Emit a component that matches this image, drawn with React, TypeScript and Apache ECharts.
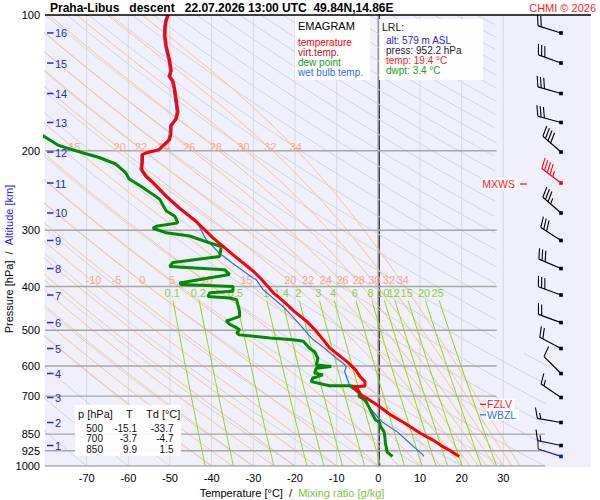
import React, { useEffect, useRef } from "react";
import * as echarts from "echarts";

// ------------------------------------------------------------------ data
const TITLE = "Praha-Libus   descent   22.07.2026 13:00 UTC  49.84N,14.86E";
const COPYRIGHT = "CHMI \u00a9 2026";

const P_TICKS = [100, 200, 300, 400, 500, 600, 700, 850, 925, 1000];
const T_TICKS = [-70, -60, -50, -40, -30, -20, -10, 0, 10, 20, 30];
const ISOBARS = [200, 300, 400, 500, 600, 700, 850, 925, 1000];

const ALT_KM = [16, 15, 14, 13, 12, 11, 10, 9, 8, 7, 6, 5, 4, 3, 2, 1];
const ALT_P = [109.6, 127.8, 149.3, 173.1, 201.3, 235.8, 274.8, 316.2, 364.9, 417.7, 480.8, 548.9, 623.7, 704.9, 800.9, 900.7];

const TEMP_P = [952.2, 925, 900, 875, 846, 800, 770, 735, 710, 700, 690, 675, 668, 665, 650, 633, 612, 589, 548, 520, 500, 478, 454, 431, 413, 386, 370, 340, 312, 287, 268, 252, 235, 228, 220, 212, 204, 202, 199, 194, 189, 184, 176, 170, 164, 154, 145, 140, 137, 133, 127, 117, 111, 106, 103, 100];
const TEMP_T = [19.4, 17.3, 15.0, 13.0, 10.1, 6.0, 2.9, 0.0, -2.5, -3.7, -4.5, -5.6, -6.2, -3.2, -3.2, -4.4, -5.5, -7.3, -11.6, -13.6, -15.1, -17.2, -20.2, -22.8, -25.2, -28.0, -30.0, -34.9, -39.7, -43.7, -47.7, -50.9, -54.1, -55.7, -56.8, -56.6, -56.6, -55.6, -52.6, -51.4, -50.1, -49.8, -49.7, -48.5, -48.1, -48.5, -48.9, -49.3, -50.1, -49.7, -50.0, -50.9, -51.2, -51.1, -50.9, -50.4];

const DEW_P = [952.2, 930, 889, 850, 838, 817, 801, 790, 752, 715, 700, 689, 668, 664, 664, 650, 638, 628, 622, 607, 602, 597, 577, 558, 548, 529, 525, 520, 512, 507, 499, 494, 485, 477, 473, 466, 454, 439, 428, 424, 421, 413, 410, 400, 396, 393, 376, 367, 361, 354, 343, 326, 320, 309, 304, 297, 294, 289, 279, 272, 256, 241, 231, 224, 214, 207, 202, 198, 194, 185];
const DEW_T = [3.4, 2.1, 1.7, 1.5, 1.3, 0.5, 0.3, -0.7, -1.9, -3.1, -4.7, -4.4, -5.3, -6.7, -11.7, -16.1, -15.7, -13.3, -15.3, -14.9, -11.3, -14.9, -14.5, -15.3, -16.5, -18.0, -20.4, -26.0, -33.3, -34.0, -33.3, -34.0, -35.7, -36.5, -35.3, -33.3, -33.3, -33.7, -34.0, -35.7, -40.9, -40.5, -34.9, -34.9, -47.3, -47.7, -35.7, -36.9, -50.1, -49.3, -38.1, -37.7, -40.5, -45.3, -50.9, -54.1, -53.3, -48.1, -48.9, -50.9, -52.5, -56.6, -59.8, -60.6, -63.0, -67.0, -71.0, -74.2, -77.0, -80.6];

const WB_P = [952.2, 945, 889, 838, 801, 758, 707, 689, 668, 643, 618, 603, 591, 577, 548, 520, 490, 463, 443, 424, 406, 386, 383, 364, 355, 337, 314, 294, 286, 268, 252, 235, 228, 220, 212, 204, 202, 199, 194, 189, 184, 176, 170, 164, 154, 145, 140, 137, 133, 127, 117, 111, 106, 103, 100];
const WB_T = [10.9, 10.7, 7.5, 4.4, 1.1, -1.3, -4.0, -4.8, -6.8, -7.4, -8.1, -7.7, -8.5, -10.1, -12.9, -16.1, -18.5, -20.9, -22.9, -25.3, -27.7, -29.3, -30.1, -33.4, -35.0, -38.2, -41.4, -43.0, -44.1, -48.1, -51.3, -54.5, -56.1, -57.2, -57.0, -57.0, -56.0, -53.0, -51.8, -50.5, -50.2, -50.1, -48.9, -48.5, -48.9, -49.3, -49.7, -50.5, -50.1, -50.4, -51.3, -51.6, -51.5, -51.3, -50.8];

const WIND_P = [109.6, 127.8, 149.3, 173.1, 201.3, 235.8, 274.8, 316.2, 364.9, 417.7, 480.8, 548.9, 623.7, 704.9, 800.9, 900.7, 952.2];
const WIND_DIR = [287, 290, 286, 285, 311, 307, 311, 303, 293, 290, 290, 298, 315, 304, 280, 282, 288];
const WIND_SPD = [20, 30, 30, 30, 40, 45, 35, 30, 30, 30, 20, 20, 10, 15, 15, 15, 10];
const WIND_KIND = [0, 0, 0, 0, 0, 1, 0, 0, 0, 0, 0, 0, 0, 0, 0, 0, 2];

const LEVEL_NAMES = ["FZLV", "WBZL", "MXWS"];
const LEVEL_P = [730, 770, 237];

const MIX_RATIOS = [0.1, 0.2, 0.5, 1, 1.4, 2, 3, 4, 6, 8, 10, 12, 15, 20, 25];
const THETA_W = [-40, -35, -30, -25, -20, -15, -10, -5, 0, 5, 10, 15, 20, 22, 24, 26, 28, 30, 32, 34];
const THETA_W_LOW_LABELS = [-10, -5, 0, 5, 10, 15, 20, 22, 24, 26, 28, 30, 32, 34];
const THETA_W_HIGH_LABELS = [15, 20, 22, 24, 26, 28, 30, 32, 34];
const THETA_DRY = [-80, -70, -60, -50, -40, -30, -20, -10, 0, 10, 20, 30, 40, 50, 60, 70, 80, 90, 100, 110, 120, 130, 140, 150, 160, 170, 180, 190, 200, 210, 220, 230, 240, 250, 260, 270, 280, 290, 300, 310];

const TABLE_P = [500, 700, 850];
const TABLE_T = [-15.1, -3.7, 9.9];
const TABLE_TD = [-33.7, -4.7, 1.5];

const LRL_ALT = 579;
const LRL_PRESS = 952.2;
const LRL_TEMP = 19.4;
const LRL_DWPT = 3.4;

const LEGEND_ITEMS = ["temperature", "virt.temp.", "dew point", "wet bulb temp."];

// ------------------------------------------------------------------ style
const FONT = '"Liberation Sans", Arial, Helvetica, sans-serif';
const C_RED = "#ff0000";
const C_VT = "#b01818";
const C_GREEN = "#008c00";
const C_LGREEN = "#1f9a1f";
const C_WB = "#2f6fe8";
const C_ALT = "#2323f0";
const C_DRY = "#d2d2da";
const C_MOIST = "#ffc07e";
const C_MOIST_LBL = "#f7a88a";
const C_MIX = "#92d40c";
const C_MIX_LBL = "#8ccf3c";

// ------------------------------------------------------------------ thermodynamics for diagram grid
const K0 = 273.15;
const RD = 287.04;
const CP = 1005.7;
const LV = 2.501e6;
const EPS = 0.622;
const KAPPA = 0.2857;
const N = 240;
const P_GRID: number[] = [];
for (let i = 0; i <= N; i++) P_GRID.push(1000 * Math.pow(10, -i / N));

const satVap = (tc: number) => 6.112 * Math.exp((17.67 * tc) / (tc + 243.5));
const lapse = (tk: number, p: number) => {
  const e = satVap(tk - K0);
  const rs = (EPS * e) / (p - e);
  return (RD * tk + LV * rs) / (CP + (LV * LV * rs * EPS) / (RD * tk * tk));
};
function moistLine(thw: number): number[][] {
  const out: number[][] = [];
  let T = thw + K0;
  const h = -Math.LN10 / N;
  for (let i = 0; i <= N; i++) {
    const p = P_GRID[i];
    out.push([T - K0, p]);
    if (i === N) break;
    const lp = Math.log(p);
    const f = (t: number, l: number) => lapse(t, Math.exp(l));
    const k1 = f(T, lp);
    const k2 = f(T + (h * k1) / 2, lp + h / 2);
    const k3 = f(T + (h * k2) / 2, lp + h / 2);
    const k4 = f(T + h * k3, lp + h);
    T += (h * (k1 + 2 * k2 + 2 * k3 + k4)) / 6;
  }
  return out;
}
const dryLine = (th: number) => P_GRID.map((p) => [(th + K0) * Math.pow(p / 1000, KAPPA) - K0, p]);
const tdFromW = (w: number, p: number) => {
  const e = (w * p) / (622 + w);
  const l = Math.log(e / 6.112);
  return (243.5 * l) / (17.67 - l);
};
const mixLine = (w: number) => P_GRID.filter((p) => p >= 428).map((p) => [tdFromW(w, p), p]);
const interpT = (pts: number[][], p: number) => {
  for (let i = 0; i < pts.length - 1; i++) {
    const a = pts[i], b = pts[i + 1];
    if ((a[1] - p) * (b[1] - p) <= 0) {
      const f = (Math.log(p) - Math.log(a[1])) / (Math.log(b[1]) - Math.log(a[1]));
      return a[0] + f * (b[0] - a[0]);
    }
  }
  return pts[pts.length - 1][0];
};

const CUT_P = 560;
const CUT_T = 28.4;
function split(pts: number[][]): number[][][] {
  const segs: number[][][] = [];
  let cur: number[][] = [];
  for (const pt of pts) {
    const ok = pt[0] > -95 && pt[0] < 48 && !(pt[1] < CUT_P && pt[0] > CUT_T);
    if (ok) cur.push(pt);
    else {
      if (cur.length > 1) segs.push(cur);
      cur = [];
    }
  }
  if (cur.length > 1) segs.push(cur);
  return segs;
}

// ------------------------------------------------------------------ option
function buildOption(): any {
  const series: any[] = [];
  const addLine = (data: any[], color: string, width: number, z: number) =>
    series.push({
      type: "line",
      data,
      symbol: "none",
      silent: true,
      clip: true,
      z,
      lineStyle: { color, width },
      emphasis: { disabled: true },
    });

  T_TICKS.forEach((t) => addLine([[t, 100], [t, 1000]], t === 0 ? "#8e8e8e" : "#d9d9d9", t === 0 ? 1.5 : 1, 1));
  THETA_DRY.forEach((th) => split(dryLine(th)).forEach((s) => addLine(s, C_DRY, 1, 1)));
  const moistLines = THETA_W.map((tw) => moistLine(tw));
  moistLines.forEach((ml) => split(ml).forEach((s) => addLine(s, C_MOIST, 1, 1)));
  MIX_RATIOS.forEach((w) => split(mixLine(w)).forEach((s) => addLine(s, C_MIX, 1, 1)));
  ISOBARS.forEach((p) => addLine([[-80, p], [p >= 850 ? 40 : CUT_T, p]], "#a6a6a6", 1.4, 1.5));

  addLine(WB_P.map((p, i) => [WB_T[i], p]), C_WB, 1.2, 3);
  addLine(DEW_P.map((p, i) => [DEW_T[i], p]), C_GREEN, 3, 4);
  addLine(TEMP_P.map((p, i) => [TEMP_T[i], p]), C_RED, 3, 5);

  const textSeries = (pts: number[][], texts: string[], color: string, size: number) =>
    series.push({
      type: "custom",
      coordinateSystem: "cartesian2d",
      clip: false,
      silent: true,
      z: 2,
      data: pts,
      renderItem: (params: any, api: any) => {
        const c = api.coord([api.value(0), api.value(1)]);
        return {
          type: "text",
          x: c[0],
          y: c[1],
          style: {
            text: texts[params.dataIndex],
            fill: color,
            fontSize: size,
            fontFamily: FONT,
            align: "center",
            textAlign: "center",
            verticalAlign: "middle",
            textVerticalAlign: "middle",
          },
        };
      },
    });

  // moist adiabat labels
  const lowPts = THETA_W_LOW_LABELS.map((tw) => [interpT(moistLines[THETA_W.indexOf(tw)], 387) + 0.6, 387]);
  textSeries(lowPts, THETA_W_LOW_LABELS.map(String), C_MOIST_LBL, 11);
  const highPts = THETA_W_HIGH_LABELS.map((tw) => [interpT(moistLines[THETA_W.indexOf(tw)], 196) + 0.5, 196]);
  textSeries(highPts, THETA_W_HIGH_LABELS.map(String), C_MOIST_LBL, 11);
  // mixing ratio labels
  textSeries(MIX_RATIOS.map((w) => [tdFromW(w, 420), 413]), MIX_RATIOS.map(String), C_MIX_LBL, 11);

  // pressure labels
  series.push({
    type: "custom",
    coordinateSystem: "cartesian2d",
    clip: false,
    silent: true,
    z: 6,
    data: P_TICKS.map((p) => [-80, p]),
    renderItem: (params: any, api: any) => {
      const c = api.coord([-80, P_TICKS[params.dataIndex]]);
      return {
        type: "text",
        x: c[0] - 5,
        y: c[1],
        style: {
          text: String(P_TICKS[params.dataIndex]),
          fill: "#000",
          fontSize: 11,
          fontFamily: FONT,
          align: "right",
          textAlign: "right",
          verticalAlign: "middle",
          textVerticalAlign: "middle",
        },
      };
    },
  });

  // altitude ticks
  series.push({
    type: "custom",
    coordinateSystem: "cartesian2d",
    clip: false,
    silent: true,
    z: 6,
    data: ALT_P.map((p) => [-80, p]),
    renderItem: (params: any, api: any) => {
      const i = params.dataIndex;
      const c = api.coord([-80, ALT_P[i]]);
      return {
        type: "group",
        children: [
          { type: "line", shape: { x1: c[0] + 2, y1: c[1], x2: c[0] + 8.5, y2: c[1] }, style: { stroke: C_ALT, lineWidth: 1.5 } },
          {
            type: "text",
            x: c[0] + 10,
            y: c[1] + 0.5,
            style: {
              text: String(ALT_KM[i]),
              fill: C_ALT,
              fontSize: 11,
              fontFamily: FONT,
              align: "left",
              textAlign: "left",
              verticalAlign: "middle",
              textVerticalAlign: "middle",
            },
          },
        ],
      };
    },
  });

  // wind barbs
  const BARB_X = 561;
  series.push({
    type: "custom",
    coordinateSystem: "cartesian2d",
    clip: false,
    silent: true,
    z: 7,
    data: WIND_P.map((p) => [0, p]),
    renderItem: (params: any, api: any) => {
      const i = params.dataIndex;
      const y0 = api.coord([0, WIND_P[i]])[1];
      const x0 = BARB_X;
      const color = WIND_KIND[i] === 1 ? "#ff0000" : WIND_KIND[i] === 2 ? "#1010e0" : "#000";
      const d = (WIND_DIR[i] * Math.PI) / 180;
      const ux = Math.sin(d), uy = -Math.cos(d);
      const fx = -uy, fy = ux;
      const L = 24;
      const ex = x0 + ux * L, ey = y0 + uy * L;
      const children: any[] = [
        { type: "line", shape: { x1: x0, y1: y0, x2: ex, y2: ey }, style: { stroke: color, lineWidth: 1.2 } },
      ];
      let spd = WIND_SPD[i];
      let pos = 0;
      const feather = (len: number) => {
        const bx = ex - ux * pos, by = ey - uy * pos;
        const tx = bx + (fx * 0.94 + ux * 0.34) * len;
        const ty = by + (fy * 0.94 + uy * 0.34) * len;
        children.push({ type: "line", shape: { x1: bx, y1: by, x2: tx, y2: ty }, style: { stroke: color, lineWidth: 1.1 } });
      };
      while (spd >= 10) {
        feather(11);
        pos += 3.4;
        spd -= 10;
      }
      if (spd >= 5) {
        if (pos === 0) pos = 3.4;
        feather(6);
      }
      children.push({ type: "rect", shape: { x: x0 - 1.8, y: y0 - 1.8, width: 3.6, height: 3.6 }, style: { fill: color } });
      return { type: "group", children };
    },
  });

  // special levels
  series.push({
    type: "custom",
    coordinateSystem: "cartesian2d",
    clip: false,
    silent: true,
    z: 8,
    data: LEVEL_P.map((p) => [0, p]),
    renderItem: (params: any, api: any) => {
      const i = params.dataIndex;
      const y = api.coord([0, LEVEL_P[i]])[1];
      const name = LEVEL_NAMES[i];
      const color = name === "WBZL" ? C_WB : "#ff1a1a";
      const right = name !== "MXWS";
      const dash = right ? { x1: 480, x2: 486 } : { x1: 520, x2: 527 };
      return {
        type: "group",
        children: [
          {
            type: "text",
            x: right ? 486 : 518,
            y,
            style: {
              text: name,
              fill: color,
              fontSize: 10.5,
              fontFamily: FONT,
              backgroundColor: "#ffffff",
              padding: [0, 3, 0, 1],
              align: right ? "left" : "right",
              textAlign: right ? "left" : "right",
              verticalAlign: "middle",
              textVerticalAlign: "middle",
            },
          },
          { type: "line", shape: { x1: dash.x1, y1: y, x2: dash.x2, y2: y }, style: { stroke: color, lineWidth: 1.3 } },
        ],
      };
    },
  });

  // ---------------------------------------------------------------- graphic
  const txt = (x: number, y: number, text: string, color: string, size: number, align = "left", extra: any = {}) => ({
    type: "text",
    x,
    y,
    z: 30,
    silent: true,
    style: {
      text,
      fill: color,
      fontSize: size,
      fontFamily: FONT,
      align,
      textAlign: align,
      verticalAlign: "middle",
      textVerticalAlign: "middle",
      ...extra,
    },
  });
  const elements: any[] = [
    { type: "rect", z: -10, silent: true, shape: { x: 45, y: 15, width: 546, height: 452 }, style: { fill: "#f0f0fd" } },
    { type: "line", z: 30, silent: true, shape: { x1: 45, y1: 15, x2: 591, y2: 15 }, style: { stroke: "#000", lineWidth: 1.5 } },
    txt(50, 8, TITLE, "#000", 12, "left", { fontWeight: "bold" }),
    txt(596, 8, COPYRIGHT, "#ff1a1a", 11, "right"),
    // legend box
    { type: "rect", z: 29, silent: true, shape: { x: 295, y: 16, width: 75, height: 64 }, style: { fill: "#ffffff", opacity: 0.92 } },
    txt(298, 26, "EMAGRAM", "#000", 11),
    txt(298, 42.5, LEGEND_ITEMS[0], C_RED, 10),
    txt(298, 52.5, LEGEND_ITEMS[1], C_VT, 10),
    txt(298, 62.5, LEGEND_ITEMS[2], C_LGREEN, 10),
    txt(298, 72.5, LEGEND_ITEMS[3], C_WB, 10),
    // LRL box
    { type: "rect", z: 29, silent: true, shape: { x: 379, y: 19, width: 104, height: 61 }, style: { fill: "#ffffff", opacity: 0.92 } },
    txt(382, 27, "LRL:", "#222", 10.5),
    txt(386, 40, `alt: ${LRL_ALT} m ASL`, "#2323f0", 10),
    txt(386, 50.2, `press: ${LRL_PRESS.toFixed(1)} hPa`, "#222", 10),
    txt(386, 60.4, `temp: ${LRL_TEMP.toFixed(1)} \u00b0C`, "#ff1a1a", 10),
    txt(386, 70.6, `dwpt: ${LRL_DWPT.toFixed(1)} \u00b0C`, C_LGREEN, 10),
    // table box
    { type: "rect", z: 29, silent: true, shape: { x: 75, y: 405, width: 106, height: 51 }, style: { fill: "#ffffff", opacity: 0.92 } },
    txt(78, 414, "p [hPa]", "#111", 11),
    txt(126, 414, "T", "#111", 11),
    txt(146, 414, "Td [\u00b0C]", "#111", 11),
  ];
  TABLE_P.forEach((p, i) => {
    const y = 428.5 + i * 10.3;
    elements.push(txt(103, y, String(p), "#111", 10, "right"));
    elements.push(txt(137, y, TABLE_T[i].toFixed(1), "#111", 10, "right"));
    elements.push(txt(173.5, y, TABLE_TD[i].toFixed(1), "#111", 10, "right"));
  });
  elements.push({
    type: "text",
    x: 9,
    y: 259,
    rotation: Math.PI / 2,
    z: 30,
    silent: true,
    style: {
      text: "{a|Pressure [hPa]}  /  {b|Altitude [km]}",
      fill: "#000",
      fontSize: 11,
      fontFamily: FONT,
      align: "center",
      textAlign: "center",
      verticalAlign: "middle",
      textVerticalAlign: "middle",
      rich: {
        a: { fill: "#000", fontSize: 11, fontFamily: FONT },
        b: { fill: "#2323f0", fontSize: 11, fontFamily: FONT },
      },
    },
  });
  elements.push({
    type: "text",
    x: 292,
    y: 493,
    z: 30,
    silent: true,
    style: {
      text: "{a|Temperature [\u00b0C]}  /  {b|Mixing ratio [g/kg]}",
      fill: "#000",
      fontSize: 11,
      fontFamily: FONT,
      align: "center",
      textAlign: "center",
      verticalAlign: "middle",
      textVerticalAlign: "middle",
      rich: {
        a: { fill: "#000", fontSize: 11, fontFamily: FONT },
        b: { fill: "#7cc63a", fontSize: 11, fontFamily: FONT },
      },
    },
  });

  return {
    animation: false,
    backgroundColor: "#ffffff",
    grid: { left: 45, top: 15, width: 500, height: 451, containLabel: false },
    xAxis: {
      type: "value",
      min: -80,
      max: 40,
      interval: 10,
      axisLine: { show: false },
      axisTick: { show: false },
      splitLine: { show: false },
      axisLabel: {
        margin: 6,
        color: "#000",
        fontSize: 11,
        fontFamily: FONT,
        formatter: (v: number) => (v === -80 || v === 40 ? "" : String(v)),
      },
    },
    yAxis: {
      type: "log",
      logBase: 10,
      min: 100,
      max: 1000,
      inverse: true,
      axisLine: { show: true, lineStyle: { color: "#000", width: 1.5 } },
      axisTick: { show: false },
      axisLabel: { show: false },
      splitLine: { show: false },
    },
    graphic: { elements },
    series,
  };
}

export default function App() {
  const ref = useRef<HTMLDivElement>(null);
  useEffect(() => {
    document.body.style.margin = "0";
    const chart = echarts.init(ref.current as HTMLDivElement, undefined, { renderer: "svg" });
    chart.setOption(buildOption());
    return () => chart.dispose();
  }, []);
  return <div ref={ref} style={{ position: "absolute", left: 0, top: 0, width: 600, height: 500, background: "#fff" }} />;
}
